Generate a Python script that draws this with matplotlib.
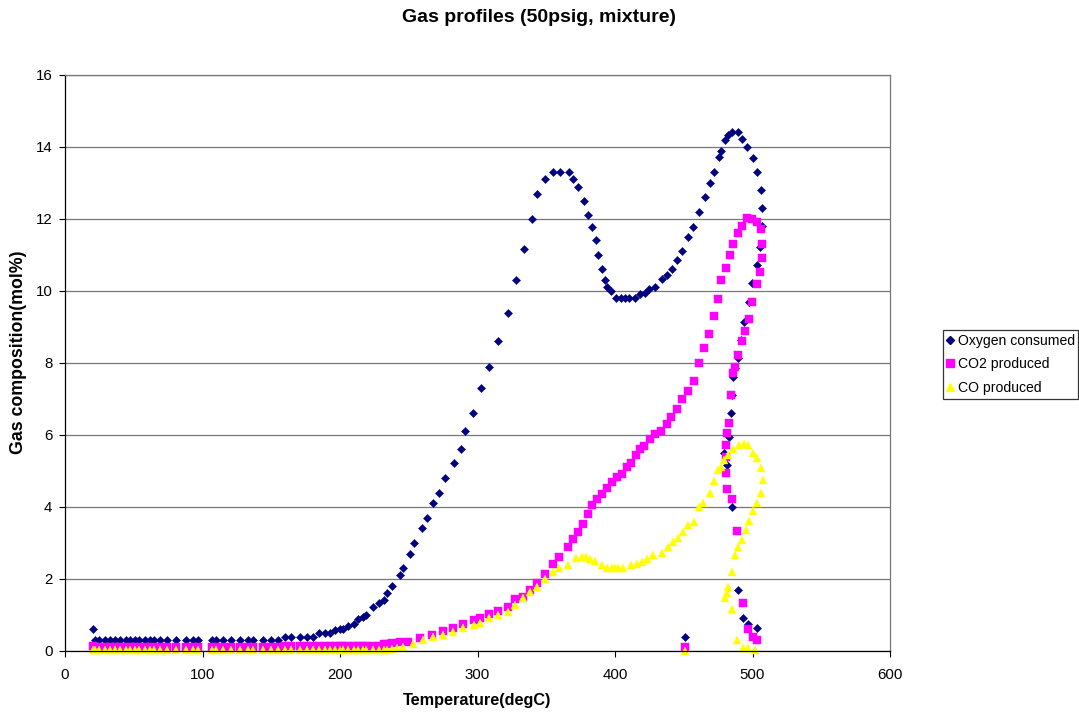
import matplotlib
matplotlib.use("Agg")
from matplotlib import pyplot as plt
from matplotlib.lines import Line2D

plt.rcParams['font.family'] = ['Liberation Sans', 'DejaVu Sans']

# Temperatures of the flat start of the run (degC)
low_temp = [20, 22, 25, 29, 33, 36, 40, 44, 47, 51, 54, 58, 62, 65, 69, 74, 81, 88, 93, 97,
            107, 110, 115, 121, 127, 133, 137, 144, 150, 155, 160, 164, 171, 176, 180,
            185, 189, 193, 196, 200, 202, 206, 210, 213, 217, 219, 224, 228, 232, 234, 238]

oxy_low = [0.60, 0.30, 0.30, 0.30, 0.30, 0.30, 0.30, 0.30, 0.30, 0.30,
           0.30, 0.30, 0.30, 0.30, 0.30, 0.30, 0.30, 0.30, 0.30, 0.30,
           0.30, 0.30, 0.30, 0.30, 0.30, 0.30, 0.30, 0.30, 0.30, 0.30,
           0.40, 0.40, 0.40, 0.40, 0.40, 0.50, 0.50, 0.50, 0.58, 0.60,
           0.60, 0.69, 0.75, 0.90, 0.95, 1.00, 1.23, 1.32, 1.43, 1.60, 1.81]
co2_low = [0.15, 0.10, 0.10, 0.10, 0.10, 0.10, 0.10, 0.10, 0.10, 0.10,
           0.10, 0.10, 0.10, 0.10, 0.10, 0.10, 0.10, 0.10, 0.10, 0.10,
           0.10, 0.10, 0.10, 0.10, 0.10, 0.10, 0.10, 0.10, 0.10, 0.12,
           0.15, 0.15, 0.15, 0.15, 0.15, 0.15, 0.15, 0.15, 0.15, 0.15,
           0.15, 0.15, 0.15, 0.15, 0.15, 0.15, 0.15, 0.15, 0.20, 0.20, 0.22]
co_low = [0.02, 0.02, 0.02, 0.02, 0.02, 0.02, 0.02, 0.02, 0.02, 0.02,
          0.02, 0.02, 0.02, 0.02, 0.02, 0.02, 0.02, 0.02, 0.02, 0.02,
          0.02, 0.02, 0.02, 0.02, 0.02, 0.02, 0.02, 0.02, 0.02, 0.02,
          0.02, 0.02, 0.02, 0.02, 0.02, 0.02, 0.02, 0.02, 0.02, 0.02,
          0.02, 0.02, 0.02, 0.02, 0.02, 0.02, 0.02, 0.02, 0.03, 0.04, 0.05]

# Oxygen consumed after light-off
oxy_temp_hi = [243.6, 246.1, 251.1, 254.1, 259.4, 263.0, 267.6, 272.1, 276.4, 282.9,
               288.0, 290.9, 297.0, 302.3, 308.4, 315.2, 322.4, 328.0, 333.8, 339.4,
               343.0, 349.1, 354.7, 360.0, 366.5, 369.7, 373.3, 377.5, 380.6, 383.0,
               386.2, 387.9, 390.8, 392.7, 394.4, 396.8, 400.7, 404.1, 407.3, 410.4,
               414.5, 418.2, 421.8, 425.0, 429.1, 433.9, 438.1, 441.2, 444.8, 448.5,
               453.3, 457.0, 461.3, 465.5, 469.1, 472.0, 475.9, 477.1, 480.0, 482.4,
               485.3, 489.7, 492.1, 496.2, 500.1, 503.5, 505.9, 507.1, 507.2, 505.5,
               503.5, 499.4, 497.5, 494.1, 491.8, 489.7, 487.3, 485.5, 484.8, 484.4,
               483.2, 479.3, 481.3, 484.9, 489.7, 493.3, 497.0, 503.6, 451.0]
oxy_hi = [2.11, 2.31, 2.70, 2.99, 3.41, 3.70, 4.10, 4.40, 4.80, 5.22,
          5.60, 6.10, 6.60, 7.31, 7.89, 8.60, 9.39, 10.30, 11.18, 11.99,
          12.70, 13.10, 13.31, 13.30, 13.31, 13.10, 12.90, 12.51, 12.11, 11.79,
          11.42, 11.00, 10.60, 10.31, 10.12, 10.01, 9.80, 9.80, 9.80, 9.80,
          9.80, 9.92, 9.94, 10.05, 10.10, 10.34, 10.44, 10.61, 10.87, 11.11,
          11.49, 11.79, 12.20, 12.60, 13.01, 13.31, 13.71, 13.90, 14.19, 14.33,
          14.42, 14.41, 14.21, 14.01, 13.70, 13.30, 12.80, 12.30, 11.80, 11.23,
          10.72, 10.21, 9.70, 9.15, 8.65, 8.15, 7.86, 7.60, 7.10, 6.60,
          5.95, 5.51, 5.17, 3.99, 1.69, 0.91, 0.74, 0.63, 0.40]

# CO2 produced
co2_temp_hi = [243.6, 249.7, 258.2, 266.7, 275.2, 282.5, 289.8, 297.1, 301.9, 308.0,
               315.2, 322.5, 327.3, 333.3, 338.0, 343.0, 349.1, 355.2, 359.3, 365.8,
               369.7, 373.3, 377.0, 380.1, 383.0, 386.7, 390.3, 394.1, 397.5, 401.2,
               404.8, 408.5, 411.6, 415.3, 418.2, 421.3, 425.5, 429.1, 433.5, 437.6,
               440.7, 444.8, 448.9, 453.3, 457.5, 461.1, 464.5, 468.6, 472.0, 475.2,
               476.9, 480.7, 483.6, 485.5, 489.7, 492.6, 495.8, 499.9, 503.0, 505.9,
               507.1, 506.9, 505.5, 503.5, 499.8, 497.7, 494.5, 492.1, 489.7, 487.3,
               486.1, 484.4, 483.2, 481.3, 480.8, 480.8, 481.0, 481.3, 484.9, 488.6,
               493.3, 497.0, 500.6, 503.0, 451.0]
co2_hi = [0.26, 0.26, 0.35, 0.44, 0.56, 0.63, 0.75, 0.86, 0.93, 1.03,
          1.12, 1.23, 1.44, 1.51, 1.70, 1.90, 2.14, 2.43, 2.62, 2.90,
          3.10, 3.31, 3.52, 3.81, 4.05, 4.21, 4.36, 4.52, 4.70, 4.84,
          4.93, 5.12, 5.23, 5.44, 5.60, 5.69, 5.90, 6.02, 6.11, 6.30,
          6.49, 6.71, 6.99, 7.22, 7.51, 8.01, 8.41, 8.81, 9.30, 9.79,
          10.31, 10.63, 11.00, 11.30, 11.60, 11.80, 12.02, 12.00, 11.93, 11.71,
          11.30, 10.92, 10.52, 10.20, 9.70, 9.21, 8.90, 8.62, 8.22, 7.90,
          7.72, 7.11, 6.32, 6.05, 5.72, 5.40, 4.94, 4.49, 4.21, 3.32,
          1.32, 0.60, 0.40, 0.30, 0.10]

# CO produced
co_temp_hi = [241.2, 246.1, 253.3, 260.6, 267.9, 275.2, 282.5, 289.8, 297.1, 301.9,
              308.0, 315.2, 322.5, 327.3, 333.3, 338.0, 343.0, 349.1, 355.2, 359.3,
              365.8, 371.9, 376.0, 379.2, 382.0, 385.5, 390.3, 394.1, 397.6, 400.0,
              402.4, 406.1, 411.6, 415.8, 419.9, 423.0, 427.9, 433.9, 438.8, 442.4,
              445.6, 449.7, 453.3, 457.7, 461.1, 464.2, 469.1, 472.0, 475.2, 476.9,
              479.3, 482.4, 486.1, 490.5, 493.8, 497.0, 500.6, 503.5, 505.9, 507.4,
              505.9, 503.5, 500.1, 497.7, 495.3, 492.1, 489.7, 487.3, 484.8, 482.4,
              481.2, 480.0, 484.8, 488.9, 493.3, 497.0, 501.8, 451.0]
co_hi = [0.07, 0.11, 0.20, 0.30, 0.39, 0.44, 0.53, 0.63, 0.72, 0.79,
         0.91, 1.00, 1.09, 1.28, 1.48, 1.63, 1.78, 1.99, 2.20, 2.30,
         2.39, 2.58, 2.60, 2.62, 2.55, 2.51, 2.39, 2.30, 2.30, 2.30,
         2.30, 2.30, 2.39, 2.42, 2.48, 2.55, 2.67, 2.73, 2.90, 3.04,
         3.13, 3.31, 3.50, 3.59, 4.01, 4.12, 4.38, 4.71, 5.03, 5.10,
         5.31, 5.44, 5.60, 5.72, 5.75, 5.72, 5.49, 5.35, 5.07, 4.75,
         4.40, 4.10, 3.90, 3.62, 3.36, 3.08, 2.90, 2.67, 2.20, 1.78,
         1.60, 1.46, 1.18, 0.30, 0.07, 0.07, 0.03, 0.00]

series_names = ['Oxygen consumed', 'CO2 produced', 'CO produced']
series_colors = ['#000080', '#FF00FF', '#FFFF00']

oxy_temp = low_temp + oxy_temp_hi
oxy_val = oxy_low + oxy_hi
co2_temp = low_temp + co2_temp_hi
co2_val = co2_low + co2_hi
co_temp = low_temp + co_temp_hi
co_val = co_low + co_hi

W, H = 1079, 715
fig = plt.figure(figsize=(W / 100, H / 100), dpi=100)
ax = fig.add_axes([65 / W, 1 - 651 / H, 825 / W, 576 / H])

ax.plot(oxy_temp, oxy_val, linestyle='none', marker='D', ms=3.8,
        color=series_colors[0], mec=series_colors[0], mew=0.4, clip_on=False)
ax.plot(co2_temp, co2_val, linestyle='none', marker='s', ms=5.4,
        color=series_colors[1], mec=series_colors[1], mew=0.3, clip_on=False)
ax.plot(co_temp, co_val, linestyle='none', marker='^', ms=5.4,
        color=series_colors[2], mec=series_colors[2], mew=0.3, clip_on=False)

ax.set_xlim(0, 600)
ax.set_ylim(0, 16)
ax.set_xticks(range(0, 601, 100))
ax.set_yticks(range(0, 17, 2))
ax.yaxis.grid(True, color='#777777', linewidth=0.9)
ax.set_axisbelow(True)
ax.tick_params(axis='both', direction='out', length=4, width=0.8,
               labelsize=10.8, colors='black')
ax.tick_params(axis='x', pad=8)
ax.tick_params(axis='y', pad=5)
for side in ['left', 'bottom']:
    ax.spines[side].set_color('black')
    ax.spines[side].set_linewidth(0.9)
for side in ['top', 'right']:
    ax.spines[side].set_color('#777777')
    ax.spines[side].set_linewidth(0.9)

fig.text(538.5 / W, 1 - 18 / H, 'Gas profiles (50psig, mixture)',
         ha='center', va='center', fontsize=14, fontweight='bold')
fig.text(477.5 / W, 1 - 700 / H, 'Temperature(degC)',
         ha='center', va='center', fontsize=11.7, fontweight='bold')
fig.text(19 / W, 1 - 352 / H, 'Gas composition(mol%)', rotation=90,
         ha='center', va='center', fontsize=12.8, fontweight='bold')

handles = [
    Line2D([], [], linestyle='none', marker='D', ms=4, color=series_colors[0]),
    Line2D([], [], linestyle='none', marker='s', ms=6, color=series_colors[1]),
    Line2D([], [], linestyle='none', marker='^', ms=6, color=series_colors[2]),
]
leg = fig.legend(handles, series_names, loc='upper left',
                 bbox_to_anchor=(943 / W, 1 - 330 / H), fontsize=10.1,
                 frameon=True, fancybox=False, edgecolor='black',
                 handlelength=0.5, handletextpad=0.3, borderpad=0.25,
                 labelspacing=0.7, borderaxespad=0)
leg.get_frame().set_linewidth(0.9)

fig.savefig('out.png', dpi=100)
